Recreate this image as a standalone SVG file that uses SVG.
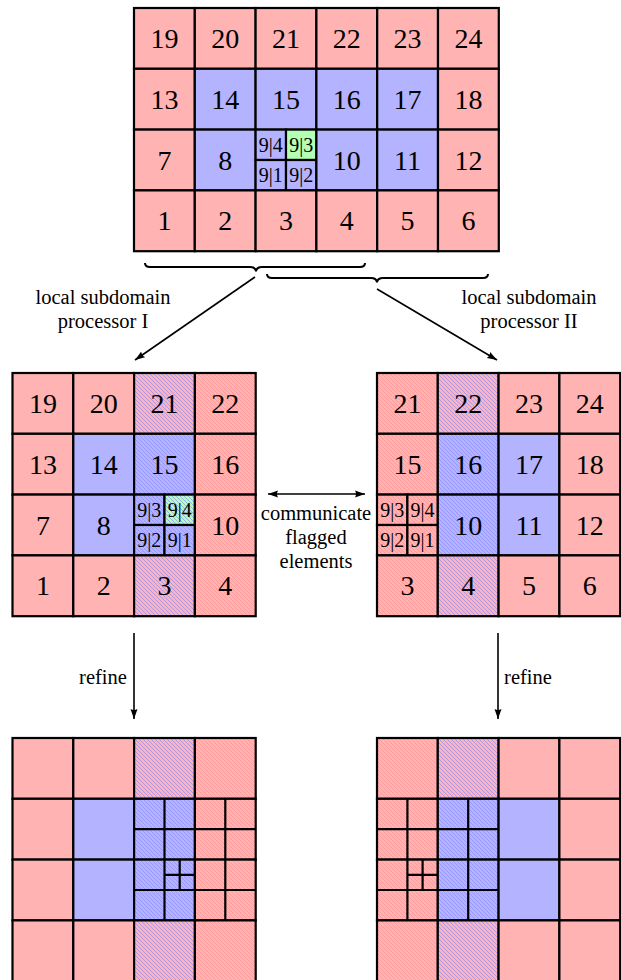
<svg xmlns="http://www.w3.org/2000/svg" width="621" height="980" viewBox="0 0 621 980" font-family="Liberation Serif, DejaVu Serif, serif">
<style>
.k{stroke:#000;stroke-width:2.2}
.r{fill:#ffb3b3}.b{fill:#b3b3ff}.g{fill:#b3ffb3}
.hb{fill:url(#hb)}.hr{fill:url(#hr)}
.sub{fill:none;stroke:#000;stroke-width:2.2}
.n,.s,.t{fill:#000;text-anchor:middle}
.n{font-size:28px}
.s{font-size:20px}
.t{font-size:20.5px}
.ln{fill:none;stroke:#000;stroke-width:1.6}
.br{fill:none;stroke:#000;stroke-width:2}
</style>
<defs>
<pattern id="hb" width="4" height="4" patternUnits="userSpaceOnUse"><path d="M-1,-1 L5,5 M-1,3 L1,5 M3,-1 L5,1" stroke="#8c8cff" stroke-width="0.7" fill="none"/></pattern>
<pattern id="hr" width="4" height="4" patternUnits="userSpaceOnUse"><path d="M-1,-1 L5,5 M-1,3 L1,5 M3,-1 L5,1" stroke="#ff9090" stroke-width="0.7" fill="none"/></pattern>
<marker id="ah" markerWidth="11" markerHeight="8" refX="10" refY="4" orient="auto" markerUnits="userSpaceOnUse"><path d="M0,0.5 L10,4 L0,7.5 Q2,4 0,0.5 Z" fill="#000"/></marker>
<marker id="as" markerWidth="11" markerHeight="8" refX="0" refY="4" orient="auto" markerUnits="userSpaceOnUse"><path d="M10,0.5 L0,4 L10,7.5 Q8,4 10,0.5 Z" fill="#000"/></marker>
</defs>

<!-- ===== Top global grid ===== -->
<g id="top-grid">
<g id="t19"><rect class="r k" x="134" y="8" width="60.8" height="60.8"/><text class="n" x="164.4" y="47.9">19</text></g>
<g id="t20"><rect class="r k" x="194.8" y="8" width="60.8" height="60.8"/><text class="n" x="225.2" y="47.9">20</text></g>
<g id="t21"><rect class="r k" x="255.6" y="8" width="60.8" height="60.8"/><text class="n" x="286" y="47.9">21</text></g>
<g id="t22"><rect class="r k" x="316.4" y="8" width="60.8" height="60.8"/><text class="n" x="346.8" y="47.9">22</text></g>
<g id="t23"><rect class="r k" x="377.2" y="8" width="60.8" height="60.8"/><text class="n" x="407.6" y="47.9">23</text></g>
<g id="t24"><rect class="r k" x="438" y="8" width="60.8" height="60.8"/><text class="n" x="468.4" y="47.9">24</text></g>

<g id="t13"><rect class="r k" x="134" y="68.8" width="60.8" height="60.8"/><text class="n" x="164.4" y="108.7">13</text></g>
<g id="t14"><rect class="b k" x="194.8" y="68.8" width="60.8" height="60.8"/><text class="n" x="225.2" y="108.7">14</text></g>
<g id="t15"><rect class="b k" x="255.6" y="68.8" width="60.8" height="60.8"/><text class="n" x="286" y="108.7">15</text></g>
<g id="t16"><rect class="b k" x="316.4" y="68.8" width="60.8" height="60.8"/><text class="n" x="346.8" y="108.7">16</text></g>
<g id="t17"><rect class="b k" x="377.2" y="68.8" width="60.8" height="60.8"/><text class="n" x="407.6" y="108.7">17</text></g>
<g id="t18"><rect class="r k" x="438" y="68.8" width="60.8" height="60.8"/><text class="n" x="468.4" y="108.7">18</text></g>

<g id="t7"><rect class="r k" x="134" y="129.6" width="60.8" height="60.8"/><text class="n" x="164.4" y="169.5">7</text></g>
<g id="t8"><rect class="b k" x="194.8" y="129.6" width="60.8" height="60.8"/><text class="n" x="225.2" y="169.5">8</text></g>
<g id="t9">
<rect class="b k" x="255.6" y="129.6" width="30.4" height="30.4"/><text class="s" x="270.8" y="151.5">9|4</text>
<rect class="g k" x="286" y="129.6" width="30.4" height="30.4"/><text class="s" x="301.2" y="151.5">9|3</text>
<rect class="b k" x="255.6" y="160" width="30.4" height="30.4"/><text class="s" x="270.8" y="181.9">9|1</text>
<rect class="b k" x="286" y="160" width="30.4" height="30.4"/><text class="s" x="301.2" y="181.9">9|2</text>
</g>
<g id="t10"><rect class="b k" x="316.4" y="129.6" width="60.8" height="60.8"/><text class="n" x="346.8" y="169.5">10</text></g>
<g id="t11"><rect class="b k" x="377.2" y="129.6" width="60.8" height="60.8"/><text class="n" x="407.6" y="169.5">11</text></g>
<g id="t12"><rect class="r k" x="438" y="129.6" width="60.8" height="60.8"/><text class="n" x="468.4" y="169.5">12</text></g>

<g id="t1"><rect class="r k" x="134" y="190.4" width="60.8" height="60.8"/><text class="n" x="164.4" y="230.3">1</text></g>
<g id="t2"><rect class="r k" x="194.8" y="190.4" width="60.8" height="60.8"/><text class="n" x="225.2" y="230.3">2</text></g>
<g id="t3"><rect class="r k" x="255.6" y="190.4" width="60.8" height="60.8"/><text class="n" x="286" y="230.3">3</text></g>
<g id="t4"><rect class="r k" x="316.4" y="190.4" width="60.8" height="60.8"/><text class="n" x="346.8" y="230.3">4</text></g>
<g id="t5"><rect class="r k" x="377.2" y="190.4" width="60.8" height="60.8"/><text class="n" x="407.6" y="230.3">5</text></g>
<g id="t6"><rect class="r k" x="438" y="190.4" width="60.8" height="60.8"/><text class="n" x="468.4" y="230.3">6</text></g>
</g>

<!-- ===== Middle left (processor I) ===== -->
<g id="mid-left">
<g id="l19"><rect class="r k" x="12.5" y="373" width="60.8" height="60.8"/><text class="n" x="42.9" y="412.9">19</text></g>
<g id="l20"><rect class="r k" x="73.3" y="373" width="60.8" height="60.8"/><text class="n" x="103.7" y="412.9">20</text></g>
<g id="l21"><rect class="r" x="134.1" y="373" width="60.8" height="60.8"/><rect class="hb k" x="134.1" y="373" width="60.8" height="60.8"/><text class="n" x="164.5" y="412.9">21</text></g>
<g id="l22"><rect class="r" x="194.9" y="373" width="60.8" height="60.8"/><rect class="hr k" x="194.9" y="373" width="60.8" height="60.8"/><text class="n" x="225.3" y="412.9">22</text></g>

<g id="l13"><rect class="r k" x="12.5" y="433.8" width="60.8" height="60.8"/><text class="n" x="42.9" y="473.7">13</text></g>
<g id="l14"><rect class="b k" x="73.3" y="433.8" width="60.8" height="60.8"/><text class="n" x="103.7" y="473.7">14</text></g>
<g id="l15"><rect class="b" x="134.1" y="433.8" width="60.8" height="60.8"/><rect class="hb k" x="134.1" y="433.8" width="60.8" height="60.8"/><text class="n" x="164.5" y="473.7">15</text></g>
<g id="l16"><rect class="r" x="194.9" y="433.8" width="60.8" height="60.8"/><rect class="hr k" x="194.9" y="433.8" width="60.8" height="60.8"/><text class="n" x="225.3" y="473.7">16</text></g>

<g id="l7"><rect class="r k" x="12.5" y="494.6" width="60.8" height="60.8"/><text class="n" x="42.9" y="534.5">7</text></g>
<g id="l8"><rect class="b k" x="73.3" y="494.6" width="60.8" height="60.8"/><text class="n" x="103.7" y="534.5">8</text></g>
<g id="l9">
<rect class="b" x="134.1" y="494.6" width="30.4" height="30.4"/><rect class="hb k" x="134.1" y="494.6" width="30.4" height="30.4"/><text class="s" x="149.3" y="516.5">9|3</text>
<rect class="g" x="164.5" y="494.6" width="30.4" height="30.4"/><rect class="hb k" x="164.5" y="494.6" width="30.4" height="30.4"/><text class="s" x="179.7" y="516.5">9|4</text>
<rect class="b" x="134.1" y="525" width="30.4" height="30.4"/><rect class="hb k" x="134.1" y="525" width="30.4" height="30.4"/><text class="s" x="149.3" y="546.9">9|2</text>
<rect class="b" x="164.5" y="525" width="30.4" height="30.4"/><rect class="hb k" x="164.5" y="525" width="30.4" height="30.4"/><text class="s" x="179.7" y="546.9">9|1</text>
</g>
<g id="l10"><rect class="r" x="194.9" y="494.6" width="60.8" height="60.8"/><rect class="hr k" x="194.9" y="494.6" width="60.8" height="60.8"/><text class="n" x="225.3" y="534.5">10</text></g>

<g id="l1"><rect class="r k" x="12.5" y="555.4" width="60.8" height="60.8"/><text class="n" x="42.9" y="595.3">1</text></g>
<g id="l2"><rect class="r k" x="73.3" y="555.4" width="60.8" height="60.8"/><text class="n" x="103.7" y="595.3">2</text></g>
<g id="l3"><rect class="r" x="134.1" y="555.4" width="60.8" height="60.8"/><rect class="hb k" x="134.1" y="555.4" width="60.8" height="60.8"/><text class="n" x="164.5" y="595.3">3</text></g>
<g id="l4"><rect class="r" x="194.9" y="555.4" width="60.8" height="60.8"/><rect class="hr k" x="194.9" y="555.4" width="60.8" height="60.8"/><text class="n" x="225.3" y="595.3">4</text></g>
</g>

<!-- ===== Middle right (processor II) ===== -->
<g id="mid-right">
<g id="r21"><rect class="r" x="377" y="373" width="60.8" height="60.8"/><rect class="hr k" x="377" y="373" width="60.8" height="60.8"/><text class="n" x="407.4" y="412.9">21</text></g>
<g id="r22"><rect class="r" x="437.8" y="373" width="60.8" height="60.8"/><rect class="hb k" x="437.8" y="373" width="60.8" height="60.8"/><text class="n" x="468.2" y="412.9">22</text></g>
<g id="r23"><rect class="r k" x="498.6" y="373" width="60.8" height="60.8"/><text class="n" x="529" y="412.9">23</text></g>
<g id="r24"><rect class="r k" x="559.4" y="373" width="60.8" height="60.8"/><text class="n" x="589.8" y="412.9">24</text></g>

<g id="r15"><rect class="r" x="377" y="433.8" width="60.8" height="60.8"/><rect class="hr k" x="377" y="433.8" width="60.8" height="60.8"/><text class="n" x="407.4" y="473.7">15</text></g>
<g id="r16"><rect class="b" x="437.8" y="433.8" width="60.8" height="60.8"/><rect class="hb k" x="437.8" y="433.8" width="60.8" height="60.8"/><text class="n" x="468.2" y="473.7">16</text></g>
<g id="r17"><rect class="b k" x="498.6" y="433.8" width="60.8" height="60.8"/><text class="n" x="529" y="473.7">17</text></g>
<g id="r18"><rect class="r k" x="559.4" y="433.8" width="60.8" height="60.8"/><text class="n" x="589.8" y="473.7">18</text></g>

<g id="r9">
<rect class="r" x="377" y="494.6" width="30.4" height="30.4"/><rect class="hr k" x="377" y="494.6" width="30.4" height="30.4"/><text class="s" x="392.2" y="516.5">9|3</text>
<rect class="r" x="407.4" y="494.6" width="30.4" height="30.4"/><rect class="hr k" x="407.4" y="494.6" width="30.4" height="30.4"/><text class="s" x="422.6" y="516.5">9|4</text>
<rect class="r" x="377" y="525" width="30.4" height="30.4"/><rect class="hr k" x="377" y="525" width="30.4" height="30.4"/><text class="s" x="392.2" y="546.9">9|2</text>
<rect class="r" x="407.4" y="525" width="30.4" height="30.4"/><rect class="hr k" x="407.4" y="525" width="30.4" height="30.4"/><text class="s" x="422.6" y="546.9">9|1</text>
</g>
<g id="r10"><rect class="b" x="437.8" y="494.6" width="60.8" height="60.8"/><rect class="hb k" x="437.8" y="494.6" width="60.8" height="60.8"/><text class="n" x="468.2" y="534.5">10</text></g>
<g id="r11"><rect class="b k" x="498.6" y="494.6" width="60.8" height="60.8"/><text class="n" x="529" y="534.5">11</text></g>
<g id="r12"><rect class="r k" x="559.4" y="494.6" width="60.8" height="60.8"/><text class="n" x="589.8" y="534.5">12</text></g>

<g id="r3"><rect class="r" x="377" y="555.4" width="60.8" height="60.8"/><rect class="hr k" x="377" y="555.4" width="60.8" height="60.8"/><text class="n" x="407.4" y="595.3">3</text></g>
<g id="r4"><rect class="r" x="437.8" y="555.4" width="60.8" height="60.8"/><rect class="hb k" x="437.8" y="555.4" width="60.8" height="60.8"/><text class="n" x="468.2" y="595.3">4</text></g>
<g id="r5"><rect class="r k" x="498.6" y="555.4" width="60.8" height="60.8"/><text class="n" x="529" y="595.3">5</text></g>
<g id="r6"><rect class="r k" x="559.4" y="555.4" width="60.8" height="60.8"/><text class="n" x="589.8" y="595.3">6</text></g>
</g>

<!-- ===== Bottom left (refined, processor I) ===== -->
<g id="bot-left">
<g id="bl19"><rect class="r k" x="12.5" y="738" width="60.8" height="60.8"/></g>
<g id="bl20"><rect class="r k" x="73.3" y="738" width="60.8" height="60.8"/></g>
<g id="bl21"><rect class="r" x="134.1" y="738" width="60.8" height="60.8"/><rect class="hb k" x="134.1" y="738" width="60.8" height="60.8"/></g>
<g id="bl22"><rect class="r" x="194.9" y="738" width="60.8" height="60.8"/><rect class="hr k" x="194.9" y="738" width="60.8" height="60.8"/></g>

<g id="bl13"><rect class="r k" x="12.5" y="798.8" width="60.8" height="60.8"/></g>
<g id="bl14"><rect class="b k" x="73.3" y="798.8" width="60.8" height="60.8"/></g>
<g id="bl15"><rect class="b" x="134.1" y="798.8" width="60.8" height="60.8"/><rect class="hb k" x="134.1" y="798.8" width="60.8" height="60.8"/><path class="sub" d="M164.5,798.8V859.6M134.1,829.2H194.9"/></g>
<g id="bl16"><rect class="r" x="194.9" y="798.8" width="60.8" height="60.8"/><rect class="hr k" x="194.9" y="798.8" width="60.8" height="60.8"/><path class="sub" d="M225.3,798.8V859.6M194.9,829.2H255.7"/></g>

<g id="bl7"><rect class="r k" x="12.5" y="859.6" width="60.8" height="60.8"/></g>
<g id="bl8"><rect class="b k" x="73.3" y="859.6" width="60.8" height="60.8"/></g>
<g id="bl9"><rect class="b" x="134.1" y="859.6" width="60.8" height="60.8"/><rect class="hb k" x="134.1" y="859.6" width="60.8" height="60.8"/><path class="sub" d="M164.5,859.6V920.4M134.1,890H194.9M179.7,859.6V890M164.5,874.8H194.9"/></g>
<g id="bl10"><rect class="r" x="194.9" y="859.6" width="60.8" height="60.8"/><rect class="hr k" x="194.9" y="859.6" width="60.8" height="60.8"/><path class="sub" d="M225.3,859.6V920.4M194.9,890H255.7"/></g>

<g id="bl1"><rect class="r k" x="12.5" y="920.4" width="60.8" height="60.8"/></g>
<g id="bl2"><rect class="r k" x="73.3" y="920.4" width="60.8" height="60.8"/></g>
<g id="bl3"><rect class="r" x="134.1" y="920.4" width="60.8" height="60.8"/><rect class="hb k" x="134.1" y="920.4" width="60.8" height="60.8"/></g>
<g id="bl4"><rect class="r" x="194.9" y="920.4" width="60.8" height="60.8"/><rect class="hr k" x="194.9" y="920.4" width="60.8" height="60.8"/></g>
</g>

<!-- ===== Bottom right (refined, processor II) ===== -->
<g id="bot-right">
<g id="br21"><rect class="r" x="377" y="738" width="60.8" height="60.8"/><rect class="hr k" x="377" y="738" width="60.8" height="60.8"/></g>
<g id="br22"><rect class="r" x="437.8" y="738" width="60.8" height="60.8"/><rect class="hb k" x="437.8" y="738" width="60.8" height="60.8"/></g>
<g id="br23"><rect class="r k" x="498.6" y="738" width="60.8" height="60.8"/></g>
<g id="br24"><rect class="r k" x="559.4" y="738" width="60.8" height="60.8"/></g>

<g id="br15"><rect class="r" x="377" y="798.8" width="60.8" height="60.8"/><rect class="hr k" x="377" y="798.8" width="60.8" height="60.8"/><path class="sub" d="M407.4,798.8V859.6M377,829.2H437.8"/></g>
<g id="br16"><rect class="b" x="437.8" y="798.8" width="60.8" height="60.8"/><rect class="hb k" x="437.8" y="798.8" width="60.8" height="60.8"/><path class="sub" d="M468.2,798.8V859.6M437.8,829.2H498.6"/></g>
<g id="br17"><rect class="b k" x="498.6" y="798.8" width="60.8" height="60.8"/></g>
<g id="br18"><rect class="r k" x="559.4" y="798.8" width="60.8" height="60.8"/></g>

<g id="br9"><rect class="r" x="377" y="859.6" width="60.8" height="60.8"/><rect class="hr k" x="377" y="859.6" width="60.8" height="60.8"/><path class="sub" d="M407.4,859.6V920.4M377,890H437.8M422.6,859.6V890M407.4,874.8H437.8"/></g>
<g id="br10"><rect class="b" x="437.8" y="859.6" width="60.8" height="60.8"/><rect class="hb k" x="437.8" y="859.6" width="60.8" height="60.8"/><path class="sub" d="M468.2,859.6V920.4M437.8,890H498.6"/></g>
<g id="br11"><rect class="b k" x="498.6" y="859.6" width="60.8" height="60.8"/></g>
<g id="br12"><rect class="r k" x="559.4" y="859.6" width="60.8" height="60.8"/></g>

<g id="br3"><rect class="r" x="377" y="920.4" width="60.8" height="60.8"/><rect class="hr k" x="377" y="920.4" width="60.8" height="60.8"/></g>
<g id="br4"><rect class="r" x="437.8" y="920.4" width="60.8" height="60.8"/><rect class="hb k" x="437.8" y="920.4" width="60.8" height="60.8"/></g>
<g id="br5"><rect class="r k" x="498.6" y="920.4" width="60.8" height="60.8"/></g>
<g id="br6"><rect class="r k" x="559.4" y="920.4" width="60.8" height="60.8"/></g>
</g>

<!-- ===== Connectors ===== -->
<g id="connectors">
<path class="br" d="M145,263 Q145,267 150,267 H250 Q255.5,267 256,271.5 Q256.5,267 262,267 H360 Q365,267 365,263"/>
<path class="br" d="M267,274 Q267,278 272,278 H371 Q376.5,278 377,282.5 Q377.5,278 383,278 H483 Q488,278 488,274"/>
<line class="ln" x1="255" y1="277" x2="135" y2="360" marker-end="url(#ah)"/>
<line class="ln" x1="377" y1="289" x2="497" y2="360" marker-end="url(#ah)"/>
<line class="ln" x1="268" y1="494" x2="365" y2="494" marker-start="url(#as)" marker-end="url(#ah)"/>
<line class="ln" x1="134" y1="633" x2="134" y2="719" marker-end="url(#ah)"/>
<line class="ln" x1="498" y1="633" x2="498" y2="719" marker-end="url(#ah)"/>
</g>

<!-- ===== Labels ===== -->
<g id="labels">
<text class="t" x="103" y="304">local subdomain</text>
<text class="t" x="103" y="328">processor I</text>
<text class="t" x="529" y="304">local subdomain</text>
<text class="t" x="529" y="328">processor II</text>
<text class="t" x="316" y="520">communicate</text>
<text class="t" x="316" y="544">flagged</text>
<text class="t" x="316" y="568">elements</text>
<text class="t" x="103" y="684">refine</text>
<text class="t" x="528" y="684">refine</text>
</g>
</svg>
